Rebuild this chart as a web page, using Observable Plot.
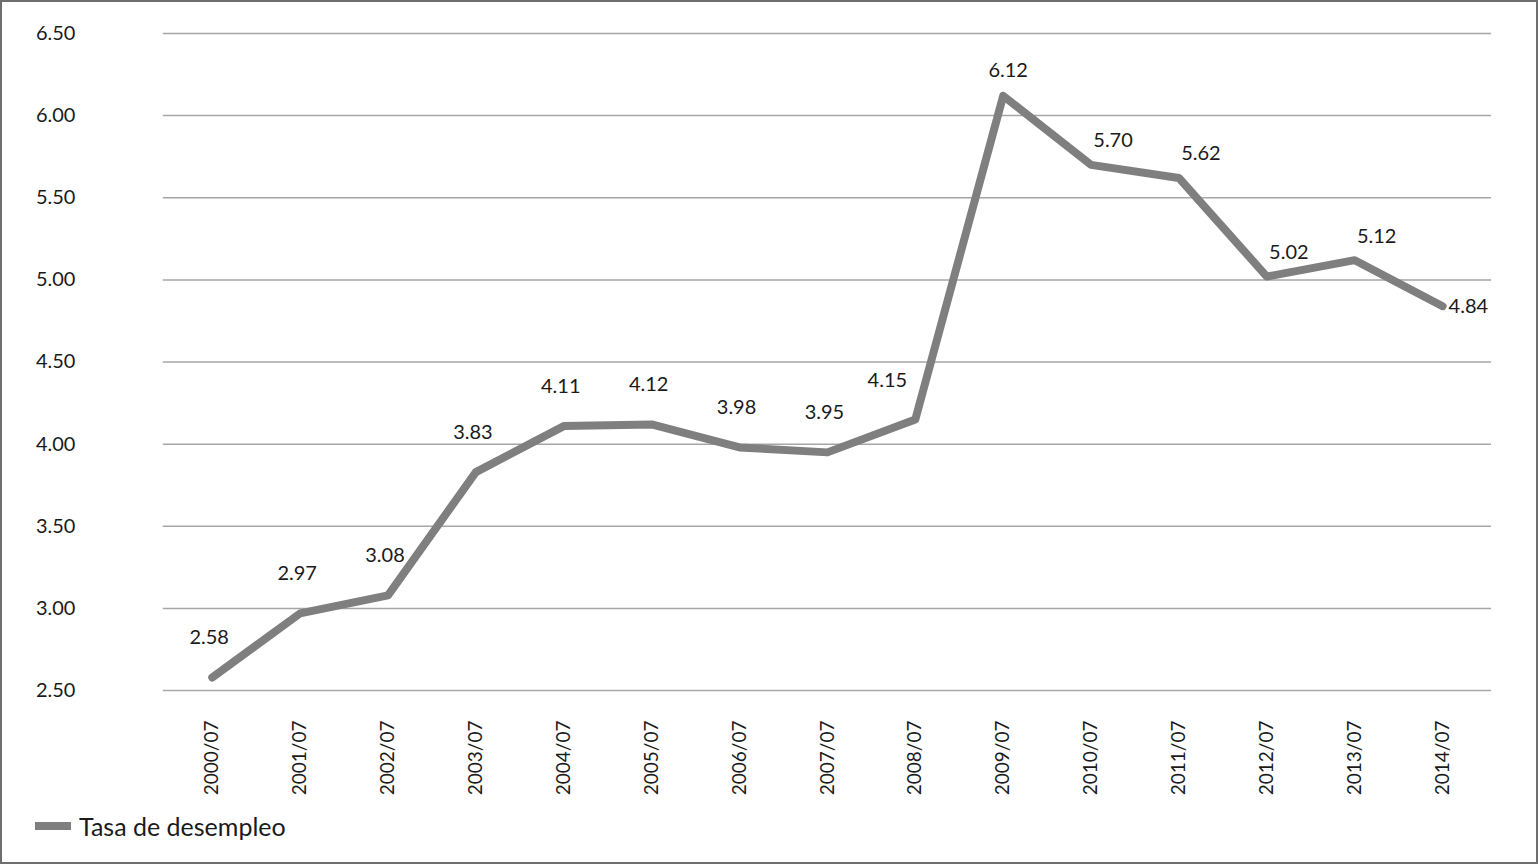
<!DOCTYPE html>
<html>
<head>
<meta charset="utf-8">
<script src="https://cdn.jsdelivr.net/npm/d3@7"></script>
<script src="https://cdn.jsdelivr.net/npm/@observablehq/plot@0.6"></script>
<style>
  html, body { margin: 0; padding: 0; background: #fff; }
  #frame { position: relative; width: 1538px; height: 864px; box-sizing: border-box; border: 2px solid #6e6e6e; overflow: hidden; font-family: Lato, "Open Sans", sans-serif; }
  #chart { position: absolute; left: -2px; top: -2px; }
  #legend { position: absolute; left: 33px; top: 809px; display: flex; align-items: center; font-size: 25px; color: #1a1a1a; }
  #legend .sw { width: 36px; height: 8px; background: #7f7f7f; margin-right: 8px; }
</style>
</head>
<body>
<div id="frame">
  <div id="chart"></div>
  <div id="legend"><span class="sw"></span><span>Tasa de desempleo</span></div>
</div>
<script>
const periods = ["2000/07","2001/07","2002/07","2003/07","2004/07","2005/07","2006/07","2007/07","2008/07","2009/07","2010/07","2011/07","2012/07","2013/07","2014/07"];
const rates = [2.58, 2.97, 3.08, 3.83, 4.11, 4.12, 3.98, 3.95, 4.15, 6.12, 5.70, 5.62, 5.02, 5.12, 4.84];
const yTicks = [2.5, 3.0, 3.5, 4.0, 4.5, 5.0, 5.5, 6.0, 6.5];

const data = periods.map((p, i) => ({period: p, rate: rates[i], i}));
const fmt = d3.format(".2f");
const last = data.length - 1;
const labelStyle = {x: "period", y: "rate", text: d => fmt(d.rate), fontSize: 20, fill: "#1a1a1a"};

const chart = Plot.plot({
  width: 1538,
  height: 800,
  marginTop: 33,
  marginBottom: 109,
  marginLeft: 163,
  marginRight: 45,
  style: {fontFamily: "Lato, 'Open Sans', sans-serif", fontSize: "20px", color: "#1a1a1a", background: "transparent"},
  x: {type: "point", domain: periods, padding: 0.5},
  y: {domain: [2.5, 6.5]},
  marks: [
    Plot.gridY(yTicks, {stroke: "#a6a6a6", strokeOpacity: 1, strokeWidth: 1.5}),
    Plot.axisY(yTicks, {tickSize: 0, tickPadding: 88, tickFormat: fmt, fontSize: 20, textAnchor: "end", label: null}),
    Plot.axisX({tickSize: 0, tickPadding: 30, tickRotate: -90, fontSize: 19, label: null}),
    Plot.line(data, {x: "period", y: "rate", stroke: "#7f7f7f", strokeWidth: 8, strokeLinecap: "round", strokeLinejoin: "round"}),
    Plot.text(data.filter(d => d.i < 8), {...labelStyle, dx: -3, dy: -40}),
    Plot.text(data.filter(d => d.i === 8), {...labelStyle, dx: -28, dy: -39}),
    Plot.text(data.filter(d => d.i === 9), {...labelStyle, dx: 5, dy: -25}),
    Plot.text(data.filter(d => d.i > 9 && d.i < last), {...labelStyle, dx: 22, dy: -24}),
    Plot.text(data.filter(d => d.i === last), {...labelStyle, dx: 6, textAnchor: "start"})
  ]
});
document.getElementById("chart").appendChild(chart);
</script>
</body>
</html>
